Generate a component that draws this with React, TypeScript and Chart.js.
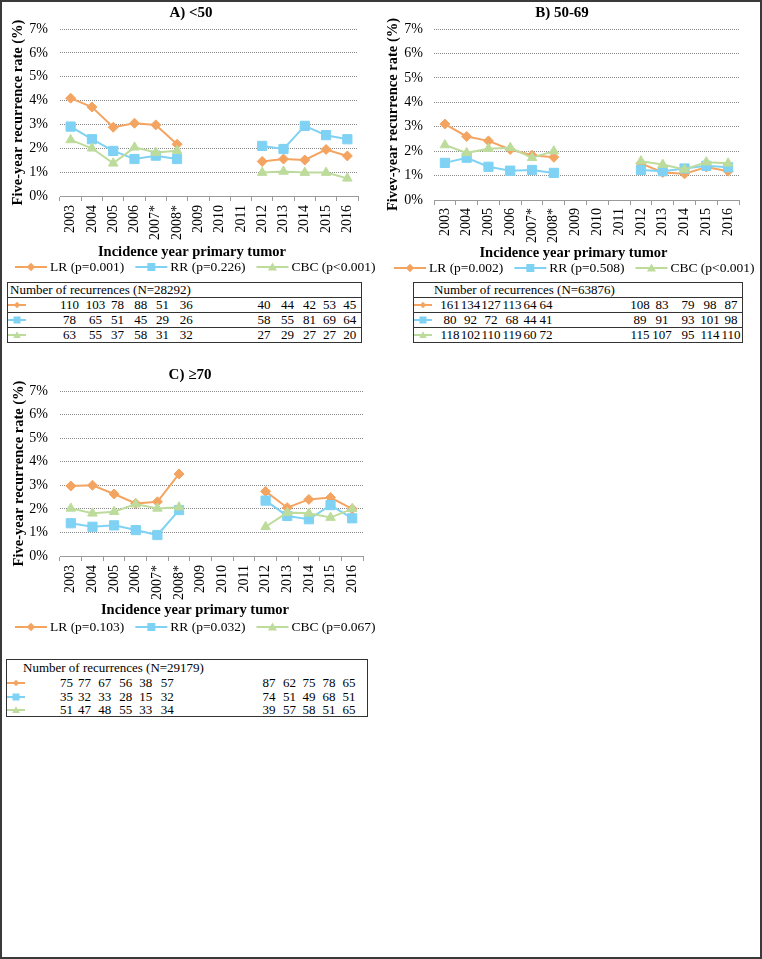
import React, { useEffect, useRef } from 'react';
import { Chart, registerables } from 'chart.js';

Chart.register(...registerables);

const FONT = '"Liberation Serif", "Times New Roman", serif';
const ORANGE = '#F4A461';
const BLUE = '#7FD2F4';
const GREEN = '#BDDC9C';
const GRID = '#8a8a8a';
const AXIS = '#9a9a9a';

// ---------- data ----------
const years = ['2003', '2004', '2005', '2006', '2007*', '2008*', '2009', '2010', '2011', '2012', '2013', '2014', '2015', '2016'];
const xAxisTitle = 'Incidence year primary tumor';

// Panel A (<50)
const aLR = [4.1, 3.73, 2.88, 3.05, 2.98, 2.17, null, null, null, 1.45, 1.55, 1.51, 1.95, 1.68];
const aRR = [2.91, 2.38, 1.89, 1.55, 1.69, 1.55, null, null, null, 2.1, 1.97, 2.94, 2.55, 2.38];
const aCBC = [2.35, 2.0, 1.37, 2.04, 1.82, 1.9, null, null, null, 0.98, 1.03, 0.98, 0.98, 0.74];
const aLabels = ['LR (p=0.001)', 'RR (p=0.226)', 'CBC (p<0.001)'];

// Panel B (50-69)
const bLR = [3.11, 2.6, 2.42, 2.07, 1.83, 1.75, null, null, null, 1.5, 1.13, 1.07, 1.35, 1.18];
const bRR = [1.52, 1.73, 1.36, 1.2, 1.23, 1.11, null, null, null, 1.23, 1.18, 1.29, 1.4, 1.34];
const bCBC = [2.25, 1.93, 2.1, 2.14, 1.73, 2.0, null, null, null, 1.59, 1.45, 1.25, 1.55, 1.5];
const bLabels = ['LR (p=0.002)', 'RR (p=0.508)', 'CBC (p<0.001)'];

// Panel C (>=70)
const cLR = [2.97, 3.0, 2.63, 2.23, 2.3, 3.48, null, null, null, 2.74, 2.05, 2.4, 2.48, 2.0];
const cRR = [1.39, 1.24, 1.3, 1.1, 0.89, 1.95, null, null, null, 2.35, 1.7, 1.56, 2.16, 1.6];
const cCBC = [2.02, 1.81, 1.88, 2.2, 2.02, 2.07, null, null, null, 1.24, 1.84, 1.81, 1.63, 2.0];
const cLabels = ['LR (p=0.103)', 'RR (p=0.032)', 'CBC (p=0.067)'];

// Number of recurrences tables (2003-2008, 2012-2016)
const tableYears = ['2003', '2004', '2005', '2006', '2007*', '2008*', '2012', '2013', '2014', '2015', '2016'];
const aNLR = [110, 103, 78, 88, 51, 36, 40, 44, 42, 53, 45];
const aNRR = [78, 65, 51, 45, 29, 26, 58, 55, 81, 69, 64];
const aNCBC = [63, 55, 37, 58, 31, 32, 27, 29, 27, 27, 20];
const bNLR = [161, 134, 127, 113, 64, 64, 108, 83, 79, 98, 87];
const bNRR = [80, 92, 72, 68, 44, 41, 89, 91, 93, 101, 98];
const bNCBC = [118, 102, 110, 119, 60, 72, 115, 107, 95, 114, 110];
const cNLR = [75, 77, 67, 56, 38, 57, 87, 62, 75, 78, 65];
const cNRR = [35, 32, 33, 28, 15, 32, 74, 51, 49, 68, 51];
const cNCBC = [51, 47, 48, 55, 33, 34, 39, 57, 58, 51, 65];

const seriesColors = [ORANGE, BLUE, GREEN];
const seriesStyles = ['rectRot', 'rect', 'triangle'];
const seriesRadius = [5, 6.5, 5.5];

// ---------- drawing helpers ----------
function drawMarker(ctx: CanvasRenderingContext2D, style: string, x: number, y: number, color: string) {
  ctx.save();
  ctx.fillStyle = color;
  ctx.beginPath();
  if (style === 'rectRot') {
    ctx.moveTo(x, y - 4.2);
    ctx.lineTo(x + 4.2, y);
    ctx.lineTo(x, y + 4.2);
    ctx.lineTo(x - 4.2, y);
  } else if (style === 'rect') {
    ctx.rect(x - 4, y - 4, 8, 8);
  } else {
    ctx.moveTo(x, y - 4.5);
    ctx.lineTo(x + 4.5, y + 3.5);
    ctx.lineTo(x - 4.5, y + 3.5);
  }
  ctx.closePath();
  ctx.fill();
  ctx.restore();
}

type Panel = {
  key: string;
  left: number;
  top: number;
  width: number;
  height: number;
  title: string;
  titleX: number;
  titleY: number;
  yTitle: string;
  yTitlePad: number;
  yTickPad: number;
  plotLeft: number;
  plotRight: number;
  plotTop: number;
  plotBottom: number;
  padBottom: number;
  xTickPad: number;
  xTitleX: number;
  xTitleY: number;
  legendX: number;
  legendY: number;
  labels: string[];
  series: (number | null)[][];
};

const panels: Panel[] = [
  {
    key: 'A', left: 0, top: 0, width: 381, height: 278,
    title: 'A) <50', titleX: 191, titleY: 13,
    yTitle: 'Five-year recurrence rate (%)', yTitlePad: 9.8, yTickPad: 12,
    plotLeft: 60, plotRight: 358, plotTop: 29, plotBottom: 196, padBottom: 16,
    xTickPad: 4, xTitleX: 192, xTitleY: 252, legendX: 15, legendY: 267,
    labels: aLabels, series: [aLR, aRR, aCBC],
  },
  {
    key: 'B', left: 381, top: 0, width: 381, height: 278,
    title: 'B) 50-69', titleX: 181, titleY: 13,
    yTitle: 'Fivev-year recurrence rate (%)', yTitlePad: 3.3, yTickPad: 11,
    plotLeft: 53, plotRight: 358, plotTop: 29, plotBottom: 200, padBottom: 16,
    xTickPad: 3, xTitleX: 192.5, xTitleY: 253, legendX: 13, legendY: 268,
    labels: bLabels, series: [bLR, bRR, bCBC],
  },
  {
    key: 'C', left: 0, top: 360, width: 381, height: 278,
    title: 'C) \u226570', titleX: 190, titleY: 15,
    yTitle: 'Five-year recurrence rate (%)', yTitlePad: 10.3, yTickPad: 12,
    plotLeft: 60, plotRight: 363, plotTop: 31, plotBottom: 196, padBottom: 16,
    xTickPad: 4, xTitleX: 195, xTitleY: 250, legendX: 15, legendY: 267,
    labels: cLabels, series: [cLR, cRR, cCBC],
  },
];

function makeTextPlugin(p: Panel) {
  return {
    id: 'panelText' + p.key,
    afterDraw(chart: any) {
      const ctx: CanvasRenderingContext2D = chart.ctx;
      ctx.save();
      ctx.fillStyle = '#000';
      ctx.textAlign = 'center';
      ctx.textBaseline = 'middle';
      ctx.font = `bold 15px ${FONT}`;
      ctx.fillText(p.title, p.titleX, p.titleY);
      ctx.font = `bold 14.5px ${FONT}`;
      ctx.fillText(xAxisTitle, p.xTitleX, p.xTitleY);
      ctx.font = `13.5px ${FONT}`;
      ctx.textAlign = 'left';
      let x = p.legendX;
      const y = p.legendY;
      chart.data.datasets.forEach((ds: any) => {
        ctx.strokeStyle = ds.borderColor;
        ctx.lineWidth = 2;
        ctx.beginPath();
        ctx.moveTo(x, y);
        ctx.lineTo(x + 32, y);
        ctx.stroke();
        drawMarker(ctx, ds.pointStyle, x + 16, y, ds.borderColor);
        ctx.fillStyle = '#000';
        ctx.fillText(ds.label, x + 35, y + 0.5);
        x += 35 + ctx.measureText(ds.label).width + 11;
      });
      ctx.restore();
    },
  };
}

function PanelChart({ p }: { p: Panel }) {
  const ref = useRef<HTMLCanvasElement | null>(null);
  useEffect(() => {
    if (!ref.current) return;
    const datasets = p.series.map((data, i) => ({
      label: p.labels[i],
      data,
      borderColor: seriesColors[i],
      backgroundColor: seriesColors[i],
      pointBackgroundColor: seriesColors[i],
      pointBorderColor: seriesColors[i],
      pointStyle: seriesStyles[i],
      pointRadius: seriesRadius[i],
      pointBorderWidth: 1,
      borderWidth: 2,
      spanGaps: false,
      tension: 0,
      order: 3 - i,
    }));
    const chart = new Chart(ref.current, {
      type: 'line',
      data: { labels: years, datasets },
      options: {
        animation: false,
        responsive: false,
        maintainAspectRatio: false,
        layout: {
          padding: { left: 0, right: p.width - p.plotRight, top: p.plotTop, bottom: p.padBottom },
        },
        plugins: {
          legend: { display: false },
          title: { display: false },
          tooltip: { enabled: false },
        },
        scales: {
          x: {
            type: 'category',
            offset: true,
            grid: { offset: true, drawOnChartArea: false, drawTicks: true, tickLength: 5, color: AXIS, lineWidth: 1 },
            border: { display: true, color: AXIS, width: 1 },
            ticks: {
              autoSkip: false,
              minRotation: 90,
              maxRotation: 90,
              padding: p.xTickPad,
              color: '#000',
              font: { family: FONT, size: 14 },
            },
            afterFit: (s: any) => {
              s.height = p.height - p.padBottom - p.plotBottom;
            },
          },
          y: {
            min: 0,
            max: 7,
            ticks: {
              stepSize: 1,
              padding: p.yTickPad,
              color: '#000',
              font: { family: FONT, size: 14 },
              callback: (v: any) => `${v}%`,
            },
            grid: { color: GRID, drawTicks: false, lineWidth: 1 },
            border: { display: false, dash: [1, 1] },
            title: {
              display: true,
              text: p.yTitle,
              color: '#000',
              font: { family: FONT, size: 14.5, weight: 'bold' },
              padding: { top: p.yTitlePad, bottom: 0 },
            },
            afterFit: (s: any) => {
              s.width = p.plotLeft;
            },
          },
        },
      } as any,
      plugins: [makeTextPlugin(p)],
    });
    return () => chart.destroy();
  }, [p]);
  return (
    <canvas
      ref={ref}
      width={p.width}
      height={p.height}
      style={{ position: 'absolute', left: p.left, top: p.top, width: p.width, height: p.height }}
    />
  );
}

// ---------- tables ----------
type TableCfg = {
  key: string;
  left: number;
  top: number;
  right: number;
  bottom: number;
  header: string;
  headerLeft: number;
  headerY: number;
  rowYs: number[];
  rowLines: number[];
  markerLeft: number;
  cols: number[];
  rows: number[][];
};

const tables: TableCfg[] = [
  {
    key: 'tA', left: 7, top: 282, right: 362, bottom: 343,
    header: 'Number of recurrences (N=28292)', headerLeft: 10, headerY: 290,
    rowYs: [304.5, 319.5, 335], rowLines: [297, 312, 327], markerLeft: 8,
    cols: [69.5, 95.5, 117.5, 140.8, 162.5, 186.2, 264, 287.5, 309.5, 329.5, 349.7],
    rows: [aNLR, aNRR, aNCBC],
  },
  {
    key: 'tB', left: 413, top: 282, right: 743, bottom: 343,
    header: 'Number of recurrences (N=63876)', headerLeft: 434, headerY: 290,
    rowYs: [304.5, 319.5, 335], rowLines: [297, 312, 327], markerLeft: 414,
    cols: [450, 470.5, 491, 512, 530, 546, 640, 662, 688, 710, 731],
    rows: [bNLR, bNRR, bNCBC],
  },
  {
    key: 'tC', left: 6, top: 659, right: 368, bottom: 717,
    header: 'Number of recurrences (N=29179)', headerLeft: 23, headerY: 668,
    rowYs: [683, 697, 710], rowLines: [], markerLeft: 7,
    cols: [66.5, 84.5, 104.8, 125.8, 145.8, 167.2, 269, 289.5, 309, 329, 349],
    rows: [cNLR, cNRR, cNCBC],
  },
];

function MarkerSvg({ idx }: { idx: number }) {
  const c = seriesColors[idx];
  let shape: React.ReactNode;
  if (idx === 0) shape = <polygon points="9,1.8 12.2,5 9,8.2 5.8,5" fill={c} />;
  else if (idx === 1) shape = <rect x={5.5} y={1.5} width={7} height={7} fill={c} />;
  else shape = <polygon points="9,1.2 12.8,8 5.2,8" fill={c} />;
  return (
    <svg width={19} height={10} style={{ display: 'block' }}>
      <line x1={0} y1={5} x2={18} y2={5} stroke={c} strokeWidth={2} />
      {shape}
    </svg>
  );
}

function CountTable({ t }: { t: TableCfg }) {
  const txt: React.CSSProperties = {
    position: 'absolute',
    fontFamily: FONT,
    fontSize: 13,
    lineHeight: '16px',
    color: '#000',
    whiteSpace: 'nowrap',
  };
  return (
    <>
      <div
        style={{
          position: 'absolute',
          left: t.left,
          top: t.top,
          width: t.right - t.left,
          height: t.bottom - t.top,
          border: '1px solid #333',
          boxSizing: 'border-box',
        }}
      />
      {t.rowLines.map((y) => (
        <div key={'l' + y} style={{ position: 'absolute', left: t.left, top: y, width: t.right - t.left, height: 1, background: '#333' }} />
      ))}
      <div style={{ ...txt, left: t.headerLeft, top: t.headerY - 8 }}>{t.header}</div>
      {t.rows.map((vals, r) => (
        <React.Fragment key={'r' + r}>
          <div style={{ position: 'absolute', left: t.markerLeft, top: t.rowYs[r] - 5 }}>
            <MarkerSvg idx={r} />
          </div>
          {vals.map((v, c) => (
            <div
              key={tableYears[c]}
              style={{ ...txt, left: t.cols[c], top: t.rowYs[r] - 8, transform: 'translateX(-50%)' }}
            >
              {v}
            </div>
          ))}
        </React.Fragment>
      ))}
    </>
  );
}

export default function App() {
  useEffect(() => {
    document.body.style.margin = '0';
  }, []);
  return (
    <div style={{ position: 'absolute', left: 0, top: 0, width: 762, height: 959, background: '#fff', overflow: 'hidden' }}>
      <div
        style={{
          position: 'absolute',
          left: 0,
          top: 0,
          width: 762,
          height: 959,
          border: '2px solid #3a3a3a',
          boxSizing: 'border-box',
        }}
      />
      {panels.map((p) => (
        <PanelChart key={p.key} p={p} />
      ))}
      {tables.map((t) => (
        <CountTable key={t.key} t={t} />
      ))}
    </div>
  );
}
